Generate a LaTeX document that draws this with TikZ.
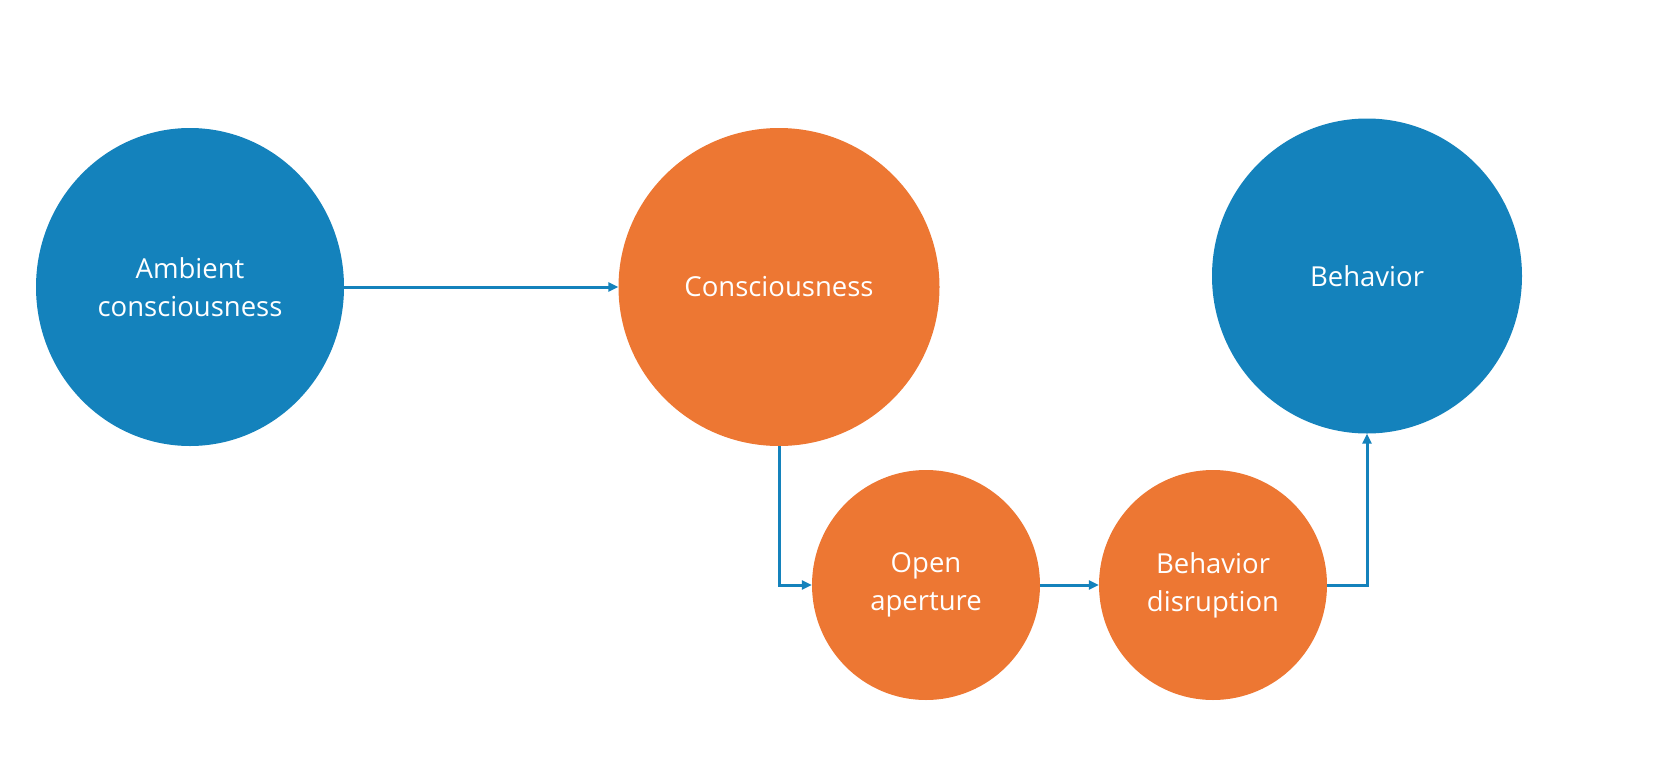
\documentclass[tikz,border=0pt]{standalone}
\usepackage{fontspec}
\setmainfont{Open Sans}
\usetikzlibrary{shapes.geometric,arrows.meta}
\definecolor{cblue}{HTML}{1482BC}
\definecolor{corange}{HTML}{ED7733}
\begin{document}
\begin{tikzpicture}[x=1pt,y=-1pt,
  bubble/.style={ellipse,inner sep=0pt,text=white,align=center,font=\fontsize{27.5}{38}\selectfont},
  bluebub/.style={bubble,fill=cblue},
  orangebub/.style={bubble,fill=corange},
  conn/.style={draw=cblue,line width=3pt,-{Triangle[length=10pt,width=9pt]}}]
\useasboundingbox (0,0) rectangle (1658,756);
\node[bluebub,minimum width=308pt,minimum height=318pt] (amb) at (190,287) {Ambient\\consciousness};
\node[orangebub,minimum width=321pt,minimum height=318pt] (con) at (779,287) {Consciousness};
\node[bluebub,minimum width=310pt,minimum height=315pt] (beh) at (1367,276) {Behavior};
\node[orangebub,minimum width=228pt,minimum height=230pt] (ope) at (926,585) {Open\\aperture};
\node[orangebub,minimum width=228pt,minimum height=230pt] (dis) at (1213,585) {Behavior\\disruption};
\draw[conn] (amb.east) -- (con.west);
\draw[conn] (con.south) |- (ope.west);
\draw[conn] (ope.east) -- (dis.west);
\draw[conn] (dis.east) -| (beh.south);
\end{tikzpicture}
\end{document}
